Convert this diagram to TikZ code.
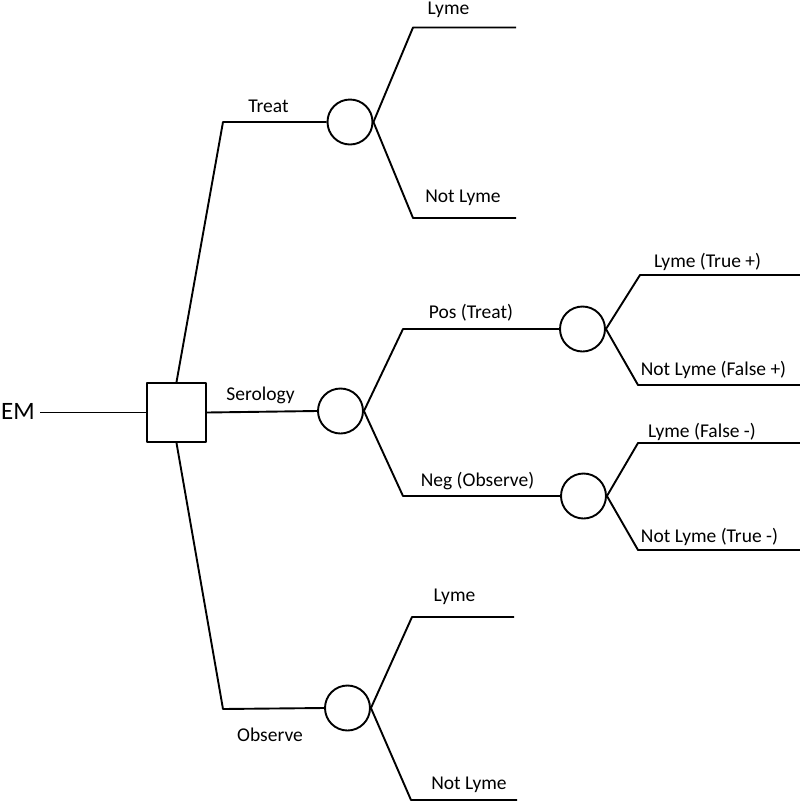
\documentclass[tikz,border=0pt]{standalone}
\usepackage{fontspec}
\setmainfont{Carlito}
\begin{document}
\begin{tikzpicture}[x=1pt,y=-1pt, line width=1.9pt, line join=round,
  chance/.style={draw, circle, minimum size=45pt, inner sep=0pt},
  decision/.style={draw, rectangle, minimum size=59pt, inner sep=0pt},
  lbl/.style={font=\fontsize{19.5}{22}\selectfont, inner sep=0pt}]
\useasboundingbox (0,0) rectangle (800,807);
% nodes
\node[decision] (dec) at (176.5,412.5) {};
\node[chance] (treat) at (350,122) {};
\node[chance] (ser) at (340.5,411) {};
\node[chance] (pos) at (582.5,329) {};
\node[chance] (neg) at (583.5,496) {};
\node[chance] (obs) at (347.5,708) {};
% EM
\node[lbl, font=\fontsize{25}{28}\selectfont] (em) at (18,411) {EM};
\coordinate (emstart) at (40,412.5);
\draw (emstart) -- (dec.west);
% Treat branch
\coordinate (tc) at (223,122);
\draw (dec.north) -- (tc) -- (treat.west);
\coordinate (t1a) at (413,27.5); \coordinate (t1b) at (516,27.5);
\coordinate (t2a) at (413,218); \coordinate (t2b) at (516,218);
\draw (treat.east) -- (t1a) -- (t1b);
\draw (treat.east) -- (t2a) -- (t2b);
% Serology branch
\draw (dec.east) -- (ser.west);
\coordinate (pa) at (403,329);
\coordinate (na) at (403,496);
\draw (ser.east) -- (pa) -- (pos.west);
\draw (ser.east) -- (na) -- (neg.west);
\coordinate (p1a) at (640,275); \coordinate (p1b) at (800,275);
\coordinate (p2a) at (638,385); \coordinate (p2b) at (800,385);
\draw (pos.east) -- (p1a) -- (p1b);
\draw (pos.east) -- (p2a) -- (p2b);
\coordinate (n1a) at (638,443); \coordinate (n1b) at (800,443);
\coordinate (n2a) at (638,550); \coordinate (n2b) at (800,550);
\draw (neg.east) -- (n1a) -- (n1b);
\draw (neg.east) -- (n2a) -- (n2b);
% Observe branch
\coordinate (oc) at (223,709);
\draw (dec.south) -- (oc) -- (obs.west);
\coordinate (o1a) at (412,617); \coordinate (o1b) at (514,617);
\coordinate (o2a) at (411,800); \coordinate (o2b) at (517,800);
\draw (obs.east) -- (o1a) -- (o1b);
\draw (obs.east) -- (o2a) -- (o2b);
% labels
\node[lbl] (ltreat) at (268.5,106) {Treat};
\node[lbl] (lt1) at (448.5,10) {Lyme};
\node[lbl] (lt2) at (463,198) {Not Lyme};
\node[lbl] (lser) at (260.5,395) {Serology};
\node[lbl] (lpos) at (471,313) {Pos (Treat)};
\node[lbl] (lneg) at (477.5,481) {Neg (Observe)};
\node[lbl] (lp1) at (707.5,262) {Lyme (True +)};
\node[lbl] (lp2) at (713.5,370) {Not Lyme (False +)};
\node[lbl] (ln1) at (702,432) {Lyme (False -)};
\node[lbl] (ln2) at (709.5,537) {Not Lyme (True -)};
\node[lbl] (lobs) at (270,735) {Observe};
\node[lbl] (lo1) at (454.5,597) {Lyme};
\node[lbl] (lo2) at (469,785) {Not Lyme};
\end{tikzpicture}
\end{document}
